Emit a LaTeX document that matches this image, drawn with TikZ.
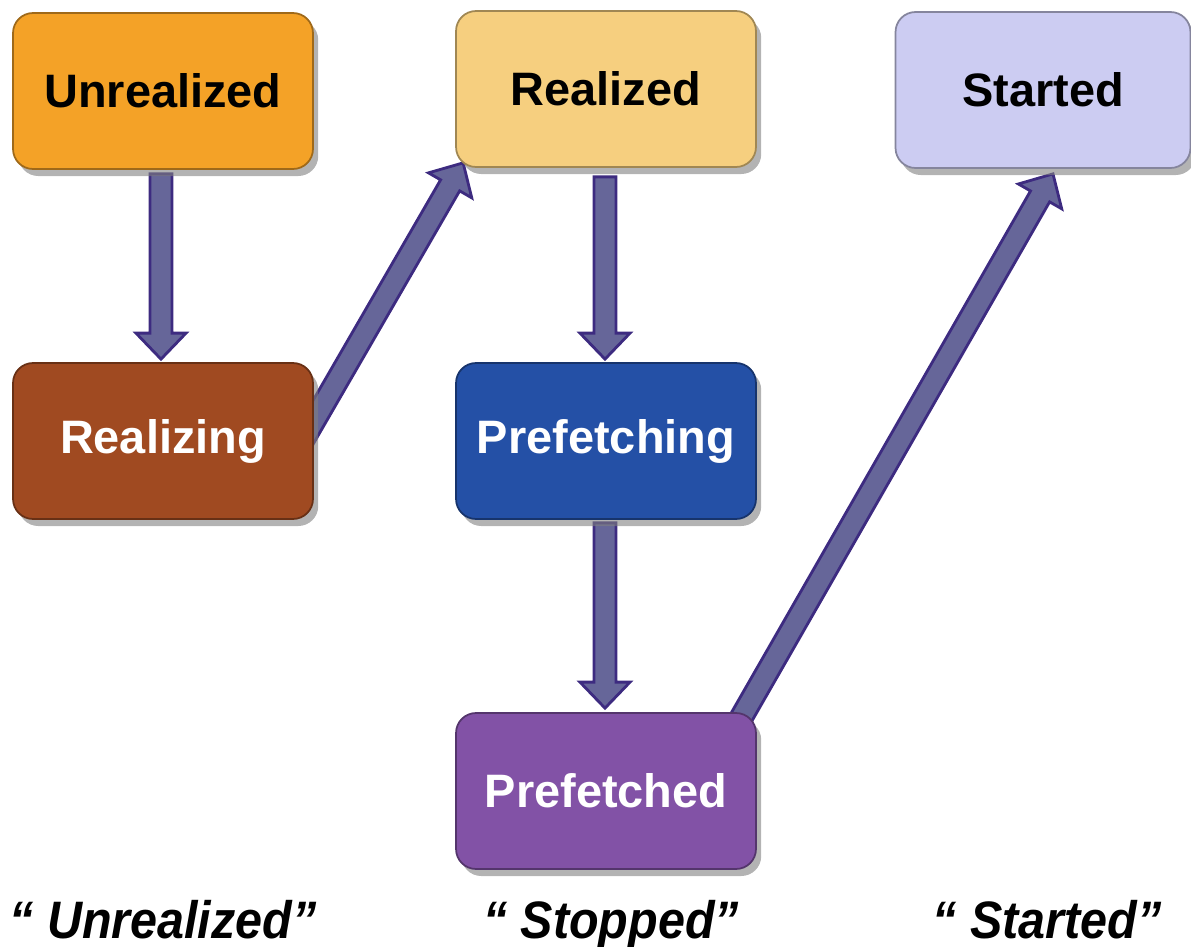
\documentclass[tikz,border=0pt]{standalone}
\usepackage{fontspec}
\setmainfont{Liberation Sans}
\usetikzlibrary{calc,shadows,backgrounds}
\definecolor{orangish}{HTML}{F4A227}
\definecolor{tannish}{HTML}{F6CF7F}
\definecolor{lilacish}{HTML}{CCCCF2}
\definecolor{brownish}{HTML}{A04A21}
\definecolor{bluish}{HTML}{2450A6}
\definecolor{purplish}{HTML}{8252A6}
\definecolor{arrowish}{HTML}{666699}
\definecolor{darrowish}{HTML}{3D2B80}

\newcommand{\blockarrow}[2]{%
  \coordinate (ba-s) at (#1);
  \coordinate (ba-t) at (#2);
  \coordinate (ba-h) at ($(ba-t)!0.52cm!(ba-s)$);
  \draw[blockarrow] ($(ba-s)!0.22cm!90:(ba-t)$) -- ($(ba-h)!0.22cm!90:(ba-t)$)
    -- ($(ba-h)!0.5cm!90:(ba-t)$) -- (ba-t) -- ($(ba-h)!0.5cm!-90:(ba-t)$)
    -- ($(ba-h)!0.22cm!-90:(ba-t)$) -- ($(ba-s)!0.22cm!-90:(ba-t)$) -- cycle;
}

\begin{document}
\begin{tikzpicture}[
   x=0.02cm, y=-0.02cm,
   statebox/.style={rectangle, rounded corners=0.4cm, minimum width=6cm,
     minimum height=3.12cm, fill=#1, draw=#1!65!black, line width=1pt,
     drop shadow={shadow xshift=3pt, shadow yshift=-4pt, opacity=0.6},
     font=\fontsize{26.7}{30}\selectfont\bfseries},
   phase/.style={anchor=base, font=\fontsize{30}{34}\selectfont\bfseries\itshape},
   blockarrow/.style={fill=arrowish, draw=darrowish, line width=1.6pt, line join=miter}
]
\useasboundingbox (0,0) rectangle (1191,947);

\node[statebox=orangish] (unrealized) at (163,91) {Unrealized};
\node[statebox=tannish] (realized) at (606,89) {Realized};
\node[statebox=lilacish, minimum width=5.9cm] (started) at (1043,90) {Started};
\node[statebox=brownish, text=white] (realizing) at (163,441) {Realizing};
\node[statebox=bluish, text=white] (prefetching) at (606,441) {Prefetching};
\node[statebox=purplish, text=white] (prefetched) at (606,791) {Prefetched};

\node[phase] (phunrealized) at (163,938) {\scalebox{0.92}[1]{“ Unrealized”}};
\node[phase] (phstopped) at (611,938) {\scalebox{0.92}[1]{“ Stopped”}};
\node[phase] (phstarted) at (1047,938) {\scalebox{0.92}[1]{“ Started”}};

\begin{scope}[on background layer]
\blockarrow{$(unrealized.south)+(-2,4)$}{$(realizing.north)+(-2,-3)$}
\blockarrow{$(realizing.east)+(-11,-1)$}{$(realized.south west)+(8,-5)$}
\blockarrow{$(realized.south)+(-1,9)$}{$(prefetching.north)+(-1,-3)$}
\blockarrow{$(prefetching.south)+(-1,3)$}{$(prefetched.north)+(-1,-4)$}
\blockarrow{$(prefetched.north east)+(-28,27)$}{$(started.south)+(10,5)$}
\end{scope}
\end{tikzpicture}
\end{document}
